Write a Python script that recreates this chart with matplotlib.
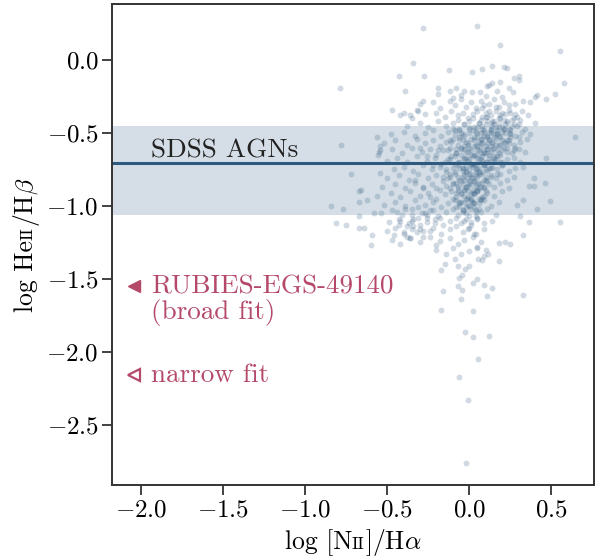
import matplotlib
matplotlib.use("Agg")
import matplotlib.pyplot as plt

plt.rcParams['font.family'] = 'serif'
plt.rcParams['font.serif'] = ['cmr10']
plt.rcParams['mathtext.fontset'] = 'cm'
plt.rcParams['axes.formatter.use_mathtext'] = True

# SDSS AGN sample (log [NII]/Ha, log HeII/Hb)
agn_x = [
    # upper fringe
    -0.28, 0.045, 0.19, 0.55, -0.79, -0.345, -0.43, -0.275, -0.124, 0.016, 0.08, 0.14, 0.21, 0.23,
    0.58, 0.52, 0.47, 0.41, 0.40, 0.37, 0.305, 0.30, 0.275, 0.19, 0.14, 0.12, 0.11, 0.24, 0.265,
    0.20, 0.17, -0.12, -0.08, -0.03, 0.015, 0.065, -0.10, -0.05, 0.10,
    -0.39, -0.19, -0.19, -0.28, -0.47, -0.40, -0.36, -0.32, -0.31,
    # left fringe
    -0.78, -0.565, -0.545, -0.72, -0.545, -0.66, -0.84, -0.77, -0.81, -0.75, -0.67, -0.67, -0.625,
    -0.67, -0.67, -0.64, -0.59, -0.555, -0.545, -0.60, -0.58,
    # right fringe
    0.645, 0.47, 0.46, 0.395, 0.365, 0.395, 0.49, 0.415, 0.33, 0.29, 0.55, 0.365, 0.31, 0.33,
    0.18, 0.22, 0.25, 0.18,
    # lower tail
    0.115, 0.08, 0.055, 0.10, 0.045, 0.0, -0.026, -0.07, -0.045, -0.06, -0.07, -0.047, -0.17,
    0.025, 0.05, 0.09, 0.14, -0.16, -0.05, 0.105, 0.33, -0.17, 0.02, -0.026, 0.025, 0.12,
    0.055, -0.06, -0.01, -0.02, -0.20, -0.14, -0.09, -0.15,
    # main cloud, top to bottom
    -0.30, -0.22, -0.18, -0.12, -0.09, -0.05, -0.02, 0.01, 0.04, 0.07, 0.09, 0.12, 0.15, 0.18, 0.21, 0.24, 0.28, 0.33,
    -0.42, -0.35, -0.27, -0.20, -0.15, -0.11, -0.07, -0.04, -0.01, 0.02, 0.05, 0.08, 0.10, 0.13, 0.16, 0.19, 0.22,
    0.25, 0.29, 0.32, 0.36,
    -0.38, -0.30, -0.25, -0.19, -0.14, -0.10, -0.06, -0.03, 0.00, 0.03, 0.06, 0.08, 0.11, 0.13, 0.15, 0.18, 0.20,
    0.23, 0.26, 0.30, 0.34, 0.40,
    -0.48, -0.40, -0.33, -0.27, -0.22, -0.17, -0.13, -0.09, -0.06, -0.03, 0.00, 0.02, 0.05, 0.07, 0.09, 0.11, 0.13,
    0.15, 0.17, 0.19, 0.22, 0.25, 0.28, 0.32, 0.37,
    -0.52, -0.45, -0.38, -0.32, -0.27, -0.22, -0.18, -0.14, -0.10, -0.07, -0.04, -0.01, 0.01, 0.04, 0.06, 0.08, 0.10,
    0.12, 0.14, 0.16, 0.18, 0.21, 0.24, 0.27, 0.31, 0.35,
    -0.55, -0.47, -0.41, -0.35, -0.29, -0.24, -0.20, -0.16, -0.12, -0.08, -0.05, -0.02, 0.00, 0.03, 0.05, 0.07, 0.09,
    0.11, 0.13, 0.15, 0.18, 0.20, 0.23, 0.26, 0.30, 0.34,
    -0.50, -0.44, -0.38, -0.32, -0.26, -0.21, -0.17, -0.13, -0.09, -0.06, -0.03, -0.01, 0.02, 0.04, 0.06, 0.08, 0.10,
    0.12, 0.15, 0.17, 0.20, 0.23, 0.27, 0.31,
    -0.46, -0.40, -0.34, -0.28, -0.23, -0.18, -0.14, -0.10, -0.07, -0.04, -0.02, 0.00, 0.02, 0.04, 0.06, 0.09, 0.11,
    0.14, 0.17, 0.20, 0.24, 0.28, 0.33,
    -0.50, -0.43, -0.37, -0.31, -0.25, -0.20, -0.16, -0.12, -0.09, -0.06, -0.03, -0.01, 0.01, 0.03, 0.05, 0.07, 0.10,
    0.13, 0.16, 0.19, 0.23, 0.27,
    -0.53, -0.45, -0.39, -0.33, -0.28, -0.23, -0.18, -0.14, -0.10, -0.07, -0.04, -0.02, 0.00, 0.02, 0.04, 0.06, 0.09,
    0.12, 0.15, 0.19, 0.24,
    -0.56, -0.48, -0.42, -0.36, -0.30, -0.25, -0.20, -0.15, -0.11, -0.08, -0.05, -0.03, -0.01, 0.01, 0.03, 0.05, 0.08,
    0.11, 0.15, 0.20,
    -0.52, -0.45, -0.39, -0.33, -0.27, -0.22, -0.17, -0.13, -0.09, -0.06, -0.03, -0.01, 0.01, 0.03, 0.06, 0.09, 0.13, 0.18,
    -0.54, -0.47, -0.41, -0.35, -0.29, -0.24, -0.19, -0.14, -0.10, -0.07, -0.04, -0.02, 0.01, 0.04, 0.07, 0.11, 0.16,
    -0.49, -0.43, -0.37, -0.31, -0.26, -0.21, -0.16, -0.12, -0.08, -0.05, -0.02, 0.01, 0.05, 0.09, 0.14,
    -0.50, -0.45, -0.40, -0.34, -0.28, -0.22, -0.17, -0.12, -0.08, -0.04, 0.00, 0.04, 0.09,
    -0.47, -0.42, -0.36, -0.30, -0.24, -0.18, -0.12, -0.07, -0.03, 0.02, 0.07,
    -0.20, -0.10, -0.05, 0.00, 0.05, 0.09,
    # dense core
    -0.10, -0.05, 0.00, 0.04, 0.08, 0.12, 0.16, 0.20, 0.24,
    -0.12, -0.06, -0.02, 0.03, 0.07, 0.11, 0.14, 0.18, 0.22,
    -0.08, -0.03, 0.01, 0.05, 0.09, 0.13, 0.17, 0.21,
    -0.11, -0.05, 0.00, 0.04, 0.08, 0.12, 0.16,
    -0.09, -0.04, 0.01, 0.05, 0.09, 0.13,
    -0.12, -0.07, -0.02, 0.02, 0.06, 0.10,
    -0.10, -0.05, -0.01, 0.03, 0.07, 0.11,
    -0.08, -0.03, 0.01, 0.05, 0.09,
    -0.06, -0.02, 0.02, 0.06,
    -0.15, -0.19, -0.16, -0.20, 0.25, 0.27, 0.19,
    0.07, 0.14, 0.21, 0.27, 0.31, 0.18, 0.10,
    -0.46, -0.43, -0.38, -0.35,
]
agn_y = [
    0.22, 0.235, 0.10, 0.06, -0.19, -0.02, -0.11, -0.11, -0.066, -0.085, -0.06, -0.04, -0.05, -0.055,
    -0.16, -0.23, -0.27, -0.24, -0.255, -0.29, -0.11, -0.137, -0.125, -0.15, -0.155, -0.17, -0.18, -0.19, -0.22,
    -0.255, -0.21, -0.21, -0.19, -0.21, -0.22, -0.22, -0.26, -0.24, -0.25,
    -0.21, -0.19, -0.23, -0.28, -0.34, -0.36, -0.38, -0.34, -0.35,
    -0.58, -0.53, -0.587, -0.78, -0.776, -0.89, -1.00, -1.02, -1.12, -1.13, -0.895, -0.97, -0.96,
    -1.07, -1.15, -1.15, -1.20, -0.65, -0.62, -1.27, -1.05,
    -0.53, -0.67, -0.84, -0.81, -0.86, -0.86, -0.965, -1.02, -0.96, -0.99, -1.11, -1.11, -1.07, -1.20,
    -1.255, -1.25, -1.26, -1.38,
    -1.33, -1.37, -1.36, -1.30, -1.29, -1.41, -1.43, -1.41, -1.47, -1.49, -1.55, -1.575, -1.44,
    -1.53, -1.50, -1.54, -1.56, -1.58, -1.64, -1.62, -1.61, -1.71, -1.72, -1.86, -1.895, -1.89,
    -2.05, -2.17, -2.33, -2.76, -1.27, -1.33, -1.36, -1.40,
    -0.30, -0.29, -0.33, -0.28, -0.31, -0.27, -0.32, -0.29, -0.33, -0.28, -0.31, -0.30, -0.27, -0.32, -0.29, -0.31, -0.30, -0.28,
    -0.38, -0.40, -0.37, -0.36, -0.39, -0.35, -0.38, -0.36, -0.40, -0.37, -0.35, -0.39, -0.36, -0.38, -0.35, -0.40, -0.37,
    -0.36, -0.39, -0.35, -0.38,
    -0.45, -0.43, -0.46, -0.42, -0.45, -0.43, -0.47, -0.44, -0.42, -0.46, -0.43, -0.45, -0.42, -0.47, -0.44, -0.43, -0.46,
    -0.42, -0.45, -0.44, -0.47, -0.43,
    -0.51, -0.49, -0.52, -0.50, -0.48, -0.52, -0.49, -0.51, -0.48, -0.52, -0.50, -0.48, -0.53, -0.50, -0.48, -0.52, -0.49,
    -0.51, -0.48, -0.53, -0.50, -0.48, -0.52, -0.49, -0.51,
    -0.57, -0.55, -0.58, -0.54, -0.57, -0.55, -0.59, -0.56, -0.54, -0.58, -0.55, -0.57, -0.54, -0.58, -0.56, -0.54, -0.59,
    -0.55, -0.57, -0.54, -0.58, -0.56, -0.55, -0.58, -0.56, -0.54,
    -0.63, -0.61, -0.64, -0.60, -0.63, -0.61, -0.65, -0.62, -0.60, -0.64, -0.61, -0.63, -0.60, -0.65, -0.62, -0.60, -0.64,
    -0.61, -0.63, -0.60, -0.64, -0.62, -0.60, -0.64, -0.61, -0.63,
    -0.69, -0.67, -0.70, -0.66, -0.69, -0.67, -0.71, -0.68, -0.66, -0.70, -0.67, -0.69, -0.66, -0.71, -0.68, -0.66, -0.70,
    -0.67, -0.69, -0.66, -0.70, -0.68, -0.67, -0.70,
    -0.75, -0.73, -0.76, -0.72, -0.75, -0.73, -0.77, -0.74, -0.72, -0.76, -0.73, -0.75, -0.72, -0.77, -0.74, -0.72, -0.76,
    -0.73, -0.75, -0.72, -0.76, -0.74, -0.73,
    -0.81, -0.79, -0.82, -0.78, -0.81, -0.79, -0.83, -0.80, -0.78, -0.82, -0.79, -0.81, -0.78, -0.83, -0.80, -0.78, -0.82,
    -0.79, -0.81, -0.78, -0.82, -0.80,
    -0.87, -0.85, -0.88, -0.84, -0.87, -0.85, -0.89, -0.86, -0.84, -0.88, -0.85, -0.87, -0.84, -0.89, -0.86, -0.84, -0.88,
    -0.85, -0.87, -0.84, -0.88,
    -0.93, -0.91, -0.94, -0.90, -0.93, -0.91, -0.95, -0.92, -0.90, -0.94, -0.91, -0.93, -0.90, -0.95, -0.92, -0.90, -0.94,
    -0.91, -0.93, -0.90,
    -0.99, -0.97, -1.00, -0.96, -0.99, -0.97, -1.01, -0.98, -0.96, -1.00, -0.97, -0.99, -0.96, -1.01, -0.98, -0.96, -1.00, -0.97,
    -1.05, -1.03, -1.06, -1.02, -1.05, -1.03, -1.07, -1.04, -1.02, -1.06, -1.03, -1.05, -1.02, -1.07, -1.04, -1.02, -1.06,
    -1.11, -1.09, -1.12, -1.08, -1.11, -1.09, -1.13, -1.10, -1.08, -1.12, -1.09, -1.11, -1.08, -1.12, -1.10,
    -1.17, -1.15, -1.18, -1.14, -1.17, -1.15, -1.19, -1.16, -1.14, -1.18, -1.15, -1.19, -1.16,
    -1.23, -1.26, -1.22, -1.25, -1.21, -1.24, -1.22, -1.26, -1.23, -1.21, -1.25,
    -1.30, -1.29, -1.33, -1.31, -1.28, -1.34,
    -0.47, -0.50, -0.46, -0.49, -0.47, -0.50, -0.46, -0.49, -0.47,
    -0.55, -0.53, -0.56, -0.53, -0.57, -0.53, -0.56, -0.52, -0.57,
    -0.61, -0.59, -0.62, -0.59, -0.63, -0.59, -0.62, -0.60,
    -0.66, -0.65, -0.68, -0.65, -0.69, -0.65, -0.68,
    -0.71, -0.74, -0.71, -0.75, -0.71, -0.74,
    -0.78, -0.80, -0.77, -0.81, -0.77, -0.80,
    -0.85, -0.83, -0.86, -0.83, -0.87, -0.83,
    -0.91, -0.89, -0.92, -0.89, -0.93,
    -0.97, -0.95, -0.98, -0.95,
    -0.70, -0.62, -0.80, -0.88, -0.53, -0.62, -0.70,
    -0.41, -0.43, -0.41, -0.44, -0.41, -0.46, -0.44,
    -1.20, -1.13, -1.21, -1.16,
]

# extra points where the cloud is darkest
core_x = [
    -0.07, -0.03, 0.02, 0.06, 0.10, 0.14, 0.18, 0.22, 0.26, 0.29,
    -0.09, -0.04, 0.00, 0.05, 0.09, 0.13, 0.17, 0.21, 0.25, 0.30,
    -0.11, -0.06, -0.01, 0.03, 0.08, 0.12, 0.16, 0.20, 0.24, 0.28,
    -0.13, -0.08, -0.03, 0.01, 0.06, 0.10, 0.14, 0.19, 0.23,
    -0.12, -0.07, -0.02, 0.03, 0.07, 0.11, 0.15, 0.20,
    -0.14, -0.09, -0.04, 0.00, 0.04, 0.08, 0.12, 0.17,
    -0.13, -0.08, -0.03, 0.01, 0.05, 0.09, 0.13,
    -0.12, -0.07, -0.02, 0.02, 0.06, 0.10,
    -0.10, -0.05, -0.01, 0.03, 0.07,
    -0.08, -0.04, 0.00, 0.04,
    -0.30, -0.26, -0.22, -0.33, -0.28, -0.24, -0.35, -0.30, -0.26, -0.21,
]
core_y = [
    -0.41, -0.44, -0.40, -0.43, -0.39, -0.42, -0.40, -0.44, -0.41, -0.45,
    -0.48, -0.51, -0.47, -0.50, -0.52, -0.48, -0.51, -0.47, -0.50, -0.53,
    -0.56, -0.54, -0.58, -0.55, -0.57, -0.54, -0.58, -0.55, -0.57, -0.60,
    -0.62, -0.64, -0.61, -0.65, -0.62, -0.64, -0.61, -0.65, -0.63,
    -0.68, -0.70, -0.67, -0.71, -0.68, -0.70, -0.67, -0.72,
    -0.75, -0.77, -0.74, -0.78, -0.75, -0.77, -0.74, -0.78,
    -0.81, -0.84, -0.82, -0.80, -0.85, -0.82, -0.80,
    -0.88, -0.90, -0.87, -0.91, -0.88, -0.90,
    -0.95, -0.97, -0.94, -0.98, -0.95,
    -1.01, -1.03, -1.00, -1.04,
    -0.60, -0.66, -0.72, -0.82, -0.88, -0.94, -1.10, -1.16, -1.06, -1.12,
]

# second layer on the darkest patches (upper right lobe, centre, lower left clump)
core2_x = [
    0.08, 0.12, 0.16, 0.20, 0.24, 0.28, 0.11, 0.15, 0.19, 0.23, 0.27,
    0.05, 0.09, 0.13, 0.17, 0.21, 0.25, 0.07, 0.11, 0.15, 0.19, 0.23,
    -0.05, -0.01, 0.03, 0.07, 0.11, 0.15, -0.03, 0.01, 0.05, 0.09, 0.13,
    -0.06, -0.02, 0.02, 0.06, 0.10, -0.04, 0.00, 0.04, 0.08,
    -0.07, -0.03, 0.01, 0.05, 0.09, -0.05, -0.01, 0.03, 0.07,
    -0.06, -0.02, 0.02, 0.06, -0.04, 0.00, 0.04,
    -0.03, 0.01, 0.05, -0.01, 0.03,
    -0.42, -0.38, -0.34, -0.30, -0.26, -0.40, -0.36, -0.32, -0.28, -0.24,
    -0.44, -0.39, -0.35, -0.31, -0.27, -0.22, -0.18,
]
core2_y = [
    -0.33, -0.35, -0.32, -0.36, -0.34, -0.37, -0.39, -0.42, -0.38, -0.43, -0.40,
    -0.46, -0.49, -0.45, -0.50, -0.47, -0.51, -0.54, -0.57, -0.53, -0.58, -0.55,
    -0.60, -0.63, -0.59, -0.64, -0.61, -0.66, -0.68, -0.71, -0.67, -0.72, -0.69,
    -0.74, -0.77, -0.73, -0.78, -0.75, -0.80, -0.83, -0.79, -0.84,
    -0.86, -0.89, -0.85, -0.90, -0.87, -0.92, -0.95, -0.91, -0.96,
    -0.98, -1.01, -0.97, -1.02, -1.04, -1.07, -1.03,
    -1.10, -1.13, -1.09, -1.16, -1.19,
    -1.10, -1.14, -1.09, -1.13, -1.08, -1.19, -1.22, -1.18, -1.21, -1.17,
    -1.04, -1.02, -1.06, -1.01, -1.05, -1.03, -1.08,
]

# SDSS median and spread of log HeII/Hb
sdss_median = -0.705
sdss_low, sdss_high = -1.062, -0.452

# RUBIES-EGS-49140 (upper limits on [NII]/Ha)
rubies_x = -2.045
broad_y = -1.55
narrow_y = -2.16

dark_blue = '#2e5a80'
rubies_col = '#b5496a'

fig = plt.figure(figsize=(5.97, 5.60), dpi=100)
ax = fig.add_axes([0.1876, 0.134, 0.8074, 0.859])

ax.axhspan(sdss_low, sdss_high, color='#d5dee6', lw=0, zorder=0)
ax.scatter(agn_x, agn_y, s=18, color=dark_blue, alpha=0.22, lw=0, zorder=1)
ax.scatter(core_x, core_y, s=18, color=dark_blue, alpha=0.22, lw=0, zorder=1)
ax.scatter(core2_x, core2_y, s=18, color=dark_blue, alpha=0.22, lw=0, zorder=1)
ax.axhline(sdss_median, color=dark_blue, lw=2.2, zorder=2)
ax.text(-1.937, sdss_median + 0.04, 'SDSS AGNs', fontsize=19.5, color='#222222',
        ha='left', va='baseline', zorder=3)

# RUBIES points
ax.plot(rubies_x, broad_y, marker='<', ms=9, color=rubies_col, ls='none', zorder=3)
ax.plot(rubies_x, narrow_y, marker='<', ms=8.5, mfc='white', mec=rubies_col, mew=1.6,
        ls='none', zorder=3)
ax.text(-1.937, broad_y, 'RUBIES-EGS-49140', fontsize=19.5, color=rubies_col,
        ha='left', va='center', zorder=3)
ax.text(-1.937, broad_y - 0.183, '(broad fit)', fontsize=19.5, color=rubies_col,
        ha='left', va='center', zorder=3)
ax.text(-1.937, narrow_y, 'narrow fit', fontsize=19.5, color=rubies_col,
        ha='left', va='center', zorder=3)

ax.set_xlim(-2.177, 0.76)
ax.set_ylim(-2.911, 0.384)
ax.set_xticks([-2.0, -1.5, -1.0, -0.5, 0.0, 0.5])
ax.set_yticks([0.0, -0.5, -1.0, -1.5, -2.0, -2.5])
ax.set_xticklabels([r'$-2.0$', r'$-1.5$', r'$-1.0$', r'$-0.5$', r'$0.0$', r'$0.5$'])
ax.set_yticklabels([r'$0.0$', r'$-0.5$', r'$-1.0$', r'$-1.5$', r'$-2.0$', r'$-2.5$'])
ax.tick_params(direction='out', length=7, width=1.3, labelsize=18, color='#333333')
ax.tick_params(axis='x', pad=3.5)
ax.tick_params(axis='y', pad=2.5)
for sp in ax.spines.values():
    sp.set_linewidth(1.4)
    sp.set_color('#333333')


def piece_label(pieces, x_px, y_px, vertical):
    # axis label built from pieces so that the ionisation stage can be small caps
    texts = [fig.text(0, 0, s, fontsize=fs, rotation=90 if vertical else 0,
                      rotation_mode='anchor', ha='left', va='baseline') for s, fs in pieces]
    fig.canvas.draw()
    r = fig.canvas.get_renderer()
    sizes = []
    for t in texts:
        bb = t.get_window_extent(r)
        sizes.append(bb.height if vertical else bb.width)
    W, H = fig.bbox.width, fig.bbox.height
    pos = -sum(sizes) / 2
    for t, L in zip(texts, sizes):
        if vertical:
            t.set_position((x_px / W, (y_px + pos) / H))
        else:
            t.set_position(((x_px + pos) / W, y_px / H))
        pos += L


piece_label([('log [N', 18.5), ('II', 13), (']/H$\\alpha$', 18.5)], 353, 11, False)
piece_label([('log He', 18.5), ('II', 13), ('/H$\\beta$', 18.5)], 33, 315.5, True)

fig.savefig('out.png', dpi=100)
